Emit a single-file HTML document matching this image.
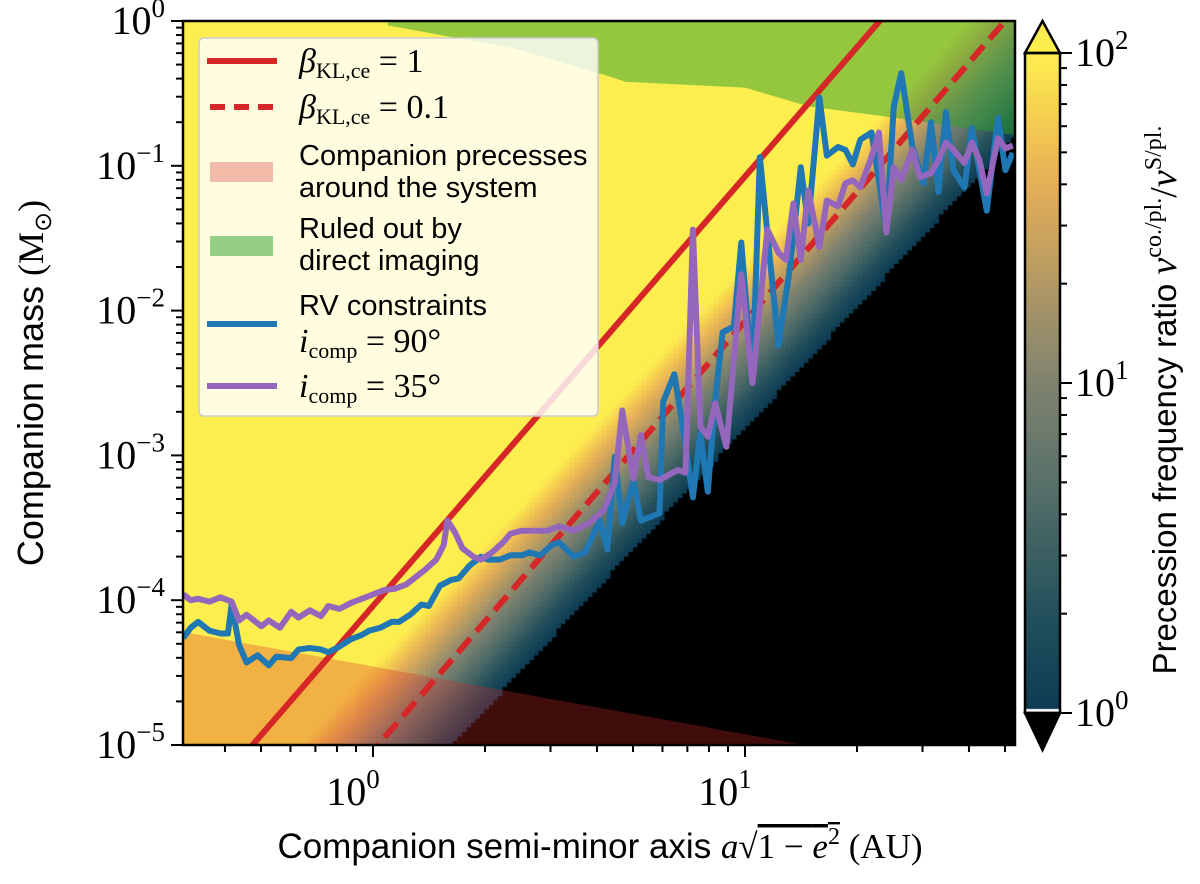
<!DOCTYPE html>
<html><head><meta charset="utf-8">
<style>
html,body{margin:0;padding:0;background:#fff;width:1200px;height:884px;overflow:hidden;}
#wrap{position:relative;width:1200px;height:884px;overflow:hidden;}
canvas,svg{position:absolute;left:0;top:0;display:block;}
text{font-family:"Liberation Serif",serif;fill:#000;}
.sans{font-family:"Liberation Sans",sans-serif;}
</style></head>
<body>
<div id="wrap">
<canvas id="heat" width="1200" height="884"></canvas>
<svg id="svg" width="1200" height="884" xmlns="http://www.w3.org/2000/svg"></svg>
</div>
<script>
// ---- data (log10 values) ----
const blueLogA = [-0.51,-0.49,-0.47,-0.44,-0.41,-0.39,-0.38,-0.36,-0.34,-0.31,-0.28,-0.26,-0.22,-0.20,-0.17,-0.14,-0.12,-0.09,-0.06,-0.03,-0.01,0.02,0.05,0.07,0.10,0.13,0.15,0.18,0.21,0.23,0.26,0.29,0.31,0.34,0.37,0.40,0.42,0.45,0.48,0.50,0.54,0.57,0.61,0.63,0.65,0.67,0.70,0.72,0.77,0.78,0.81,0.83,0.86,0.88,0.90,0.92,0.94,0.97,0.99,1.02,1.04,1.09,1.12,1.15,1.17,1.20,1.22,1.25,1.27,1.29,1.31,1.34,1.38,1.40,1.42,1.45,1.48,1.50,1.52,1.54,1.56,1.59,1.61,1.63,1.65,1.68,1.70,1.72];
const blueLogM = [-4.26,-4.19,-4.15,-4.21,-4.23,-4.23,-4.03,-4.31,-4.43,-4.38,-4.45,-4.39,-4.40,-4.34,-4.33,-4.34,-4.36,-4.32,-4.27,-4.24,-4.21,-4.19,-4.15,-4.15,-4.10,-4.03,-4.04,-3.90,-3.86,-3.85,-3.76,-3.70,-3.72,-3.72,-3.69,-3.69,-3.67,-3.69,-3.62,-3.60,-3.70,-3.67,-3.45,-3.65,-3.01,-3.47,-3.17,-3.45,-3.40,-2.63,-2.44,-2.76,-3.29,-2.85,-3.25,-2.62,-2.15,-2.11,-1.53,-2.48,-0.94,-2.24,-1.72,-1.01,-1.40,-0.53,-0.93,-0.87,-0.89,-0.99,-0.82,-0.77,-1.44,-0.59,-0.36,-0.87,-1.12,-0.70,-1.18,-0.63,-1.03,-1.15,-0.74,-1.03,-1.31,-0.67,-1.03,-0.91];
const purpleLogA = [-0.51,-0.49,-0.47,-0.44,-0.41,-0.38,-0.36,-0.34,-0.30,-0.28,-0.25,-0.22,-0.20,-0.17,-0.14,-0.12,-0.09,-0.06,-0.03,0.00,0.03,0.06,0.09,0.11,0.14,0.17,0.19,0.20,0.22,0.24,0.27,0.29,0.32,0.35,0.37,0.40,0.43,0.47,0.50,0.54,0.58,0.62,0.65,0.67,0.70,0.72,0.74,0.77,0.82,0.84,0.86,0.88,0.90,0.92,0.95,0.99,1.02,1.06,1.09,1.11,1.13,1.15,1.17,1.20,1.22,1.25,1.27,1.29,1.31,1.34,1.36,1.38,1.40,1.42,1.45,1.47,1.50,1.52,1.54,1.56,1.59,1.61,1.63,1.65,1.68,1.70,1.72];
const purpleLogM = [-3.96,-4.00,-3.99,-4.01,-3.98,-4.01,-4.14,-4.10,-4.18,-4.14,-4.19,-4.08,-4.12,-4.07,-4.11,-4.04,-4.06,-4.02,-3.99,-3.96,-3.93,-3.92,-3.89,-3.85,-3.79,-3.72,-3.62,-3.45,-3.53,-3.64,-3.70,-3.72,-3.67,-3.60,-3.54,-3.52,-3.52,-3.52,-3.49,-3.52,-3.47,-3.38,-3.19,-2.69,-3.16,-2.86,-3.15,-3.17,-3.10,-3.12,-1.44,-2.80,-2.87,-2.64,-2.94,-1.75,-2.50,-1.44,-1.60,-1.65,-1.26,-1.65,-1.17,-1.56,-1.24,-1.28,-1.12,-1.10,-1.15,-0.94,-0.77,-1.46,-1.01,-1.10,-0.89,-1.08,-1.05,-0.96,-0.84,-0.89,-0.98,-0.84,-0.96,-1.19,-0.81,-0.88,-0.86];
const betaValues = [1, 0.1];
const greenLogA = [0.04,0.38,0.62,0.68,1.00,1.17,1.38,1.73];
const greenLogM = [-0.03,-0.19,-0.37,-0.42,-0.46,-0.59,-0.66,-0.79];
const pinkLogA = [-0.51,1.16];
const pinkLogM = [-4.22,-5.00];
const xTickLabels = ['0','1'];
const yTickLabels = ['0','−1','−2','−3','−4','−5'];
const cbTickLabels = ['2','1','0'];

// ---- axes ----
const L=183,R=1015,T=21,B=745;
const laMin=(L-373)/372, laMax=(R-373)/372;
const X = la => 373 + 372*la;
const Y = lm => T - 144.8*lm;
const CBT=53, CBB=713;
const CY = lr => CBB - (CBB-CBT)*lr/2;

function cmap(t){
  const s=[[0,12,58,82],[0.15,35,80,92],[0.3,75,105,102],[0.45,115,125,110],[0.5,128,130,110],[0.6,160,145,105],[0.7,195,160,95],[0.8,228,175,88],[0.9,245,205,80],[1,253,238,80]];
  t=Math.max(0,Math.min(1,t));
  for(let i=1;i<s.length;i++){ if(t<=s[i][0]){const a=s[i-1],b=s[i],f=(t-a[0])/(b[0]-a[0]);
    return [a[1]+f*(b[1]-a[1]),a[2]+f*(b[2]-a[2]),a[3]+f*(b[3]-a[3])].map(Math.round);}}
  return [253,238,80];
}
// heat map
const ctx=document.getElementById('heat').getContext('2d');
const step=4.5;
for(let x=L;x<R;x+=step){for(let y=T;y<B;y+=step){
  const w=Math.min(step+0.6,R-x), h=Math.min(step+0.6,B-y);
  const la=(x+step/2-373)/372, lm=(T-(y+step/2))/144.8;
  const lmB=-5+2.78*(la-0.215);
  const lr=1.75*(lm-lmB);
  let c = lr<0?[0,0,0]:cmap(lr/2);
  ctx.fillStyle=`rgb(${c[0]},${c[1]},${c[2]})`;
  ctx.fillRect(x,y,w,h);
}}
// colorbar gradient
for(let y=CBT;y<CBB;y++){const c=cmap(1-(y-CBT)/(CBB-CBT));ctx.fillStyle=`rgb(${c[0]},${c[1]},${c[2]})`;ctx.fillRect(1025,y,35,1.2);}
ctx.fillStyle='#fff';ctx.fillRect(1025,CBB-4,35,3);

const svg=document.getElementById('svg');
const NS='http://www.w3.org/2000/svg';
function mk(tag,attrs,parent){const e=document.createElementNS(NS,tag);for(const k in attrs)e.setAttribute(k,attrs[k]);(parent||svg).appendChild(e);return e;}
const clip=mk('clipPath',{id:'pc'});mk('rect',{x:L,y:T,width:R-L,height:B-T},clip);
const plot=mk('g',{'clip-path':'url(#pc)'});



// pink region
let pp=`M${X(laMin)},${B} L${X(laMin)},${Y(pinkLogM[0]+(pinkLogM[1]-pinkLogM[0])*(laMin-pinkLogA[0])/(pinkLogA[1]-pinkLogA[0]))}`;
pinkLogA.forEach((a,i)=>pp+=` L${X(a)},${Y(pinkLogM[i])}`);
pp+=` L${X(pinkLogA[1])},${B} Z`;
const pink=mk('path',{d:pp,fill:'rgba(214,39,40,0.3)'},plot);


// green region
let gp=`M${X(greenLogA[0])},${T}`;
greenLogA.forEach((a,i)=>gp+=` L${X(a)},${Y(greenLogM[i])}`);
gp+=` L${R},${Y(greenLogM[greenLogM.length-1])} L${R},${T} Z`;
const green=mk('path',{d:gp,fill:'rgba(44,160,44,0.5)'},plot);



// beta lines: logm = 2.966*loga - 4.04 + log10(beta)
betaValues.forEach((b,i)=>{
  const f=la=>2.966*la-4.04+Math.log10(b);
  const ln=mk('line',{x1:X(laMin),y1:Y(f(laMin)),x2:X(laMax),y2:Y(f(laMax)),stroke:'#d62728','stroke-width':6,'stroke-dasharray':i?'19,9':'none'},plot);
  
  
});
function series(la,lm,color,name){
  const pl=mk('polyline',{points:la.map((a,i)=>X(a)+','+Y(lm[i])).join(' '),fill:'none',stroke:color,'stroke-width':6,'stroke-linejoin':'round'},plot);
  
  
}
series(blueLogA,blueLogM,'#1f77b4','rv-line-90deg');
series(purpleLogA,purpleLogM,'#9467bd','rv-line-35deg');

// frame
mk('rect',{x:L,y:T,width:R-L,height:B-T,fill:'none',stroke:'#000','stroke-width':2.5});
// ticks
const tg=mk('g',{stroke:'#000','stroke-width':2});
for(let d=-1;d<=1;d++)for(let k=1;k<10;k++){const la=d+Math.log10(k);if(la<laMin||la>laMax)continue;const x=X(la);mk('line',{x1:x,y1:B,x2:x,y2:B+(k==1?12:7)},tg);}
for(let d=-5;d<=0;d++)for(let k=1;k<10;k++){const lm=d+Math.log10(k);if(lm>0)continue;const y=Y(lm);mk('line',{x1:L,y1:y,x2:L-(k==1?12:7),y2:y},tg);}
xTickLabels.forEach((s,i)=>{const t=mk('text',{x:X(+s)-20,y:805,'font-size':40,'text-anchor':'middle'});t.innerHTML=`10<tspan font-size="27" dy="-17">${s}</tspan>`;

});
yTickLabels.forEach((s,i)=>{const t=mk('text',{x:165,y:Y(-i)+13,'font-size':40,'text-anchor':'end'});t.innerHTML=`10<tspan font-size="27" dy="-17">${s}</tspan>`;

});

// colorbar
const cb=mk('g',{});


mk('path',{d:`M1025,${CBT} L1042.5,21 L1060,${CBT} Z`,fill:'#fcec4e',stroke:'#000','stroke-width':2.5},cb);
mk('path',{d:`M1025,${CBB} L1042.5,750 L1060,${CBB} Z`,fill:'#000',stroke:'#000','stroke-width':2.5},cb);
mk('rect',{x:1025,y:CBT,width:35,height:CBB-CBT,fill:'none',stroke:'#000','stroke-width':2.5},cb);
for(let d=0;d<2;d++)for(let k=1;k<10;k++){const y=CY(d+Math.log10(k));mk('line',{x1:1060,y1:y,x2:1060+(k==1?12:7),y2:y,stroke:'#000','stroke-width':2},cb);}
mk('line',{x1:1060,y1:CY(2),x2:1072,y2:CY(2),stroke:'#000','stroke-width':2},cb);
cbTickLabels.forEach(s=>{const t=mk('text',{x:1075,y:CY(+s)+13,'font-size':40},cb);t.innerHTML=`10<tspan font-size="27" dy="-17">${s}</tspan>`;});
const cbl=mk('text',{transform:'translate(1176,400) rotate(-90)','text-anchor':'middle','font-size':33});
cbl.innerHTML=`<tspan class="sans">Precession frequency ratio </tspan><tspan font-style="italic" font-size="38">ν</tspan><tspan font-size="24" dy="-15">co./pl.</tspan><tspan dy="15" font-size="38">/</tspan><tspan font-style="italic" font-size="38">ν</tspan><tspan font-size="24" dy="-15">S/pl.</tspan>`;



// axis titles
const yt=mk('text',{transform:'translate(43,383) rotate(-90)','text-anchor':'middle','font-size':36});
yt.innerHTML=`<tspan class="sans">Companion mass </tspan><tspan>(M</tspan><tspan font-size="24" dy="8">⊙</tspan><tspan dy="-8">)</tspan>`;


const xt=mk('text',{x:600,y:858,'text-anchor':'middle','font-size':35});
xt.innerHTML=`<tspan class="sans">Companion semi-minor axis </tspan><tspan font-style="italic">a</tspan><tspan>√</tspan><tspan text-decoration="overline">1 − <tspan font-style="italic">e</tspan><tspan font-size="24" dy="-14">2</tspan></tspan><tspan dy="14"> (AU)</tspan>`;



// legend
const lg=mk('g',{});


mk('rect',{x:199,y:38,width:399,height:378,rx:5,fill:'rgba(255,255,255,0.82)',stroke:'#ccc','stroke-width':1.5},lg);
mk('line',{x1:207,y1:61,x2:277,y2:61,stroke:'#d62728','stroke-width':6},lg);
mk('line',{x1:210,y1:107,x2:277,y2:107,stroke:'#d62728','stroke-width':6,'stroke-dasharray':'15,9'},lg);
mk('rect',{x:210,y:162,width:63,height:20,fill:'rgba(214,39,40,0.3)'},lg);
mk('rect',{x:210,y:236,width:63,height:20,fill:'rgba(44,160,44,0.5)'},lg);
mk('line',{x1:207,y1:324,x2:277,y2:324,stroke:'#1f77b4','stroke-width':6},lg);
mk('line',{x1:207,y1:386,x2:277,y2:386,stroke:'#9467bd','stroke-width':6},lg);
function lt(y,html,cls){const t=mk('text',{x:299,y:y,'font-size':cls?29:34},lg);if(cls)t.setAttribute('class',cls);t.innerHTML=html;return t;}
lt(72,`<tspan font-style="italic">β</tspan><tspan font-size="22" dy="6">KL,ce</tspan><tspan dy="-6"> = 1</tspan>`);
lt(118,`<tspan font-style="italic">β</tspan><tspan font-size="22" dy="6">KL,ce</tspan><tspan dy="-6"> = 0.1</tspan>`);
lt(165,'Companion precesses','sans');
lt(197,'around the system','sans');
lt(238,'Ruled out by','sans');
lt(270,'direct imaging','sans');
lt(315,'RV constraints','sans');
lt(352,`<tspan font-style="italic">i</tspan><tspan font-size="22" dy="6">comp</tspan><tspan dy="-6"> = 90°</tspan>`);
lt(397,`<tspan font-style="italic">i</tspan><tspan font-size="22" dy="6">comp</tspan><tspan dy="-6"> = 35°</tspan>`);
</script>
</body></html>
